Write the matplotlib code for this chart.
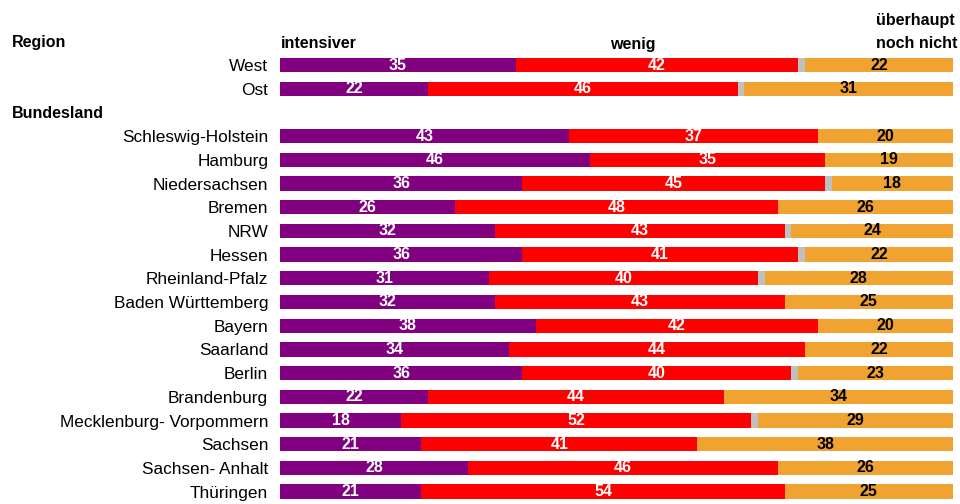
import matplotlib
matplotlib.use("Agg")
import matplotlib.pyplot as plt
import numpy as np

plt.rcParams['font.family'] = ['Liberation Sans', 'DejaVu Sans']

# rows: None = section header slot
labels = ["West", "Ost", None,
          "Schleswig-Holstein", "Hamburg", "Niedersachsen", "Bremen", "NRW",
          "Hessen", "Rheinland-Pfalz", "Baden Württemberg", "Bayern", "Saarland",
          "Berlin", "Brandenburg", "Mecklenburg- Vorpommern", "Sachsen",
          "Sachsen- Anhalt", "Thüringen"]
intensiver = [35, 22, None, 43, 46, 36, 26, 32, 36, 31, 32, 38, 34, 36, 22, 18, 21, 28, 21]
wenig = [42, 46, None, 37, 35, 45, 48, 43, 41, 40, 43, 42, 44, 40, 44, 52, 41, 46, 54]
nicht = [22, 31, None, 20, 19, 18, 26, 24, 22, 28, 25, 20, 22, 23, 34, 29, 38, 26, 25]

c_int = "#800080"
c_wen = "#ff0000"
c_gap = "#c0c0c0"
c_nic = "#f0a330"

W, H = 960, 504
fig = plt.figure(figsize=(W / 100, H / 100), dpi=100)
ax = fig.add_axes([280 / W, 0, 673 / W, 1])

row0_px = 65.0
step_px = 23.7
ax.set_ylim((H - row0_px) / step_px, -row0_px / step_px)
ax.set_xlim(0, 100)

idx = [i for i, l in enumerate(labels) if l is not None]
a = np.array([intensiver[i] for i in idx], dtype=float)
b = np.array([wenig[i] for i in idx], dtype=float)
c = np.array([nicht[i] for i in idx], dtype=float)
gap = 100 - a - b - c
y = np.array(idx, dtype=float)
h = 0.6

ax.barh(y, a, height=h, color=c_int)
ax.barh(y, b, left=a, height=h, color=c_wen)
ax.barh(y, gap, left=a + b, height=h, color=c_gap)
ax.barh(y, c, left=100 - c, height=h, color=c_nic)

for yi, ai, bi, ci in zip(y, a, b, c):
    ax.text(ai / 2, yi, f"{ai:.0f}", ha="center", va="center", color="white",
            fontsize=11.5, fontweight="bold")
    ax.text(ai + bi / 2, yi, f"{bi:.0f}", ha="center", va="center", color="white",
            fontsize=11.5, fontweight="bold")
    ax.text(100 - ci / 2, yi, f"{ci:.0f}", ha="center", va="center", color="black",
            fontsize=11.5, fontweight="bold")

ax.set_yticks(y)
ax.set_yticklabels([labels[i] for i in idx], fontsize=12.4)
ax.tick_params(axis="y", length=0, pad=8.5)
ax.set_xticks([])
for s in ax.spines.values():
    s.set_visible(False)

# headers
hdr = dict(fontsize=11.5, fontweight="bold", va="center")
fig.text(12 / W, 1 - 43 / H, "Region", **hdr)
fig.text(12 / W, 1 - 113 / H, "Bundesland", **hdr)
fig.text(281 / W, 1 - 44 / H, "intensiver", **hdr)
fig.text(633 / W, 1 - 44 / H, "wenig", ha="center", **hdr)
fig.text(876 / W, 1 - 21 / H, "überhaupt", **hdr)
fig.text(876 / W, 1 - 44 / H, "noch nicht", **hdr)

fig.savefig("out.png", dpi=100)
